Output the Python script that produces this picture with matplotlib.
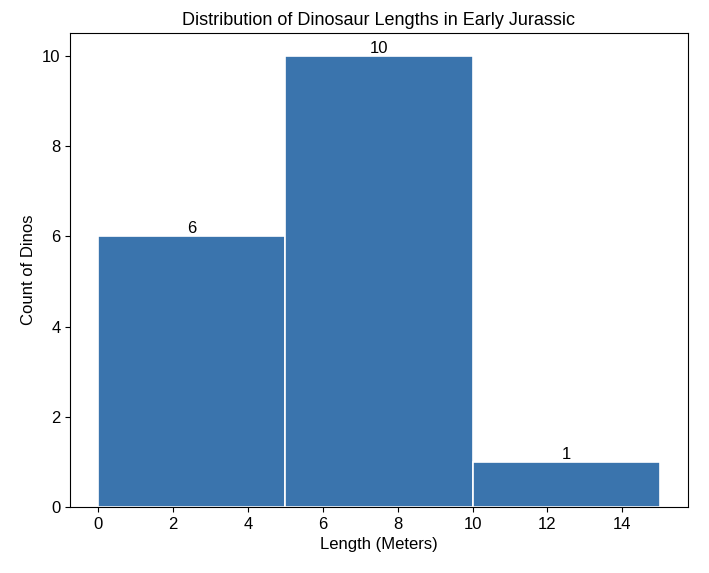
import matplotlib
matplotlib.use('Agg')
import matplotlib.pyplot as plt

plt.rcParams['font.family'] = ['Liberation Sans', 'DejaVu Sans']

# histogram bins (meters) and counts
bin_left = [0, 5, 10]
bin_width = [5, 5, 5]
counts = [6, 10, 1]

fig, ax = plt.subplots(figsize=(7.09, 5.73), dpi=100)
bars = ax.bar(bin_left, counts, width=bin_width, align='edge',
              color='#3a74ad', edgecolor='white', linewidth=1.2)
ax.bar_label(bars, labels=[str(c) for c in counts], fontsize=12)

ax.set_title('Distribution of Dinosaur Lengths in Early Jurassic', fontsize=13)
ax.set_xlabel('Length (Meters)', fontsize=12)
ax.set_ylabel('Count of Dinos', fontsize=12)
ax.tick_params(labelsize=12)
ax.set_xticks(range(0, 16, 2))

fig.subplots_adjust(left=0.099, right=0.97, top=0.942, bottom=0.115)
fig.savefig('out.png')
